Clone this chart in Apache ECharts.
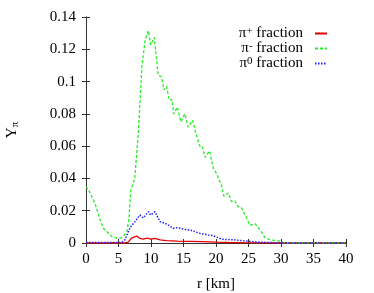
<!DOCTYPE html>
<html><head><meta charset="utf-8">
<script src="https://cdn.jsdelivr.net/npm/echarts@6/dist/echarts.min.js"></script>
<style>html,body{margin:0;padding:0;background:#fff}#c{width:374px;height:293px}</style>
</head><body><div id="c"></div>
<script>
// π+ fraction (red, solid)
const rPlus = [0, 6.0, 6.5, 7.0, 7.8, 8.3, 8.8, 9.4, 10.0, 10.6, 11.4, 12.4, 14, 16, 18, 20, 22, 25, 28, 40];
const yPlus = [0, 0, 0.0005, 0.003, 0.0043, 0.0028, 0.0024, 0.003, 0.0024, 0.0028, 0.0019, 0.0015, 0.0012, 0.001, 0.0008, 0.0005, 0.0003, 0.0001, 0, 0];
// π- fraction (green, dashed)
const rMinus = [0, 0.5, 1.1, 1.6, 2.2, 2.7, 3.2, 4.0, 4.7, 5.3, 5.8, 6.3, 6.6, 6.9, 7.5, 8.05, 8.6, 9.1, 9.6, 9.95, 10.5, 11.1, 11.6, 12.0, 12.4, 12.8, 13.2, 13.5, 14.05, 14.6, 15.2, 15.7, 16.4, 16.9, 17.5, 17.9, 18.3, 19.0, 19.6, 20.1, 20.9, 21.2, 21.9, 22.4, 22.9, 23.4, 23.9, 24.7, 25.2, 26.0, 26.8, 27.5, 28.3, 29.3, 30.0, 30.5, 35, 40];
const yMinus = [0.035, 0.032, 0.027, 0.022, 0.014, 0.009, 0.007, 0.004, 0.003, 0.003, 0.0045, 0.007, 0.015, 0.033, 0.040, 0.068, 0.109, 0.126, 0.1315, 0.1227, 0.1274, 0.104, 0.103, 0.0948, 0.097, 0.0886, 0.089, 0.080, 0.0842, 0.075, 0.080, 0.0718, 0.076, 0.068, 0.060, 0.060, 0.053, 0.057, 0.046, 0.043, 0.035, 0.029, 0.031, 0.0256, 0.026, 0.0225, 0.022, 0.0155, 0.011, 0.012, 0.008, 0.0035, 0.002, 0.0015, 0.001, 0, 0, 0];
// π0 fraction (blue, dotted)
const rZero = [0, 5.5, 6.0, 6.8, 7.5, 8.3, 8.8, 9.6, 9.95, 10.6, 11.4, 12.4, 13.4, 14.0, 15.2, 16.2, 17.5, 18.8, 19.6, 20.9, 22.7, 24.7, 26.8, 28.8, 30, 40];
const yZero = [0.0003, 0.0003, 0.002, 0.0097, 0.013, 0.0173, 0.0155, 0.0194, 0.0173, 0.0194, 0.0132, 0.0118, 0.0091, 0.0095, 0.0085, 0.0078, 0.006, 0.005, 0.0045, 0.0023, 0.002, 0.0012, 0.0005, 0.0002, 0, 0];
const xTicks = [0, 5, 10, 15, 20, 25, 30, 35, 40];
const yTicks = [0, 0.02, 0.04, 0.06, 0.08, 0.1, 0.12, 0.14];

const font = 'Liberation Serif';
const pairs = (xs, ys) => xs.map((x, i) => [x, ys[i]]);
const axisCommon = {
  axisLine: { show: true, lineStyle: { color: '#333', width: 1 } },
  axisTick: { show: true, inside: true, length: 4, lineStyle: { color: '#333' } },
  splitLine: { show: false },
  minorTick: { show: false }
};
const chart = echarts.init(document.getElementById('c'));
chart.setOption({
  animation: false,
  backgroundColor: '#fff',
  grid: { left: 86, right: 28, top: 17, bottom: 50, containLabel: false, outerBoundsMode: 'none' },
  legend: {
    right: 41, top: 21, orient: 'vertical', align: 'right',
    itemWidth: 12, itemHeight: 8, itemGap: 0,
    itemStyle: { opacity: 0 },
    formatter: function (name) {
      const sup = { 'pi+': '+', 'pi-': '-', 'pi0': '0' }[name];
      return '{a|π}{s|' + sup + '}{a| fraction}';
    },
    textStyle: {
      fontFamily: font, fontSize: 15, color: '#000', padding: [0, 7, 0, 0],
      rich: {
        a: { fontFamily: font, fontSize: 15, color: '#000', lineHeight: 15 },
        s: { fontFamily: font, fontSize: 11, color: '#000', verticalAlign: 'top', lineHeight: 6 }
      }
    },
    data: ['pi+', 'pi-', 'pi0']
  },
  xAxis: [
    Object.assign({}, axisCommon, {
      type: 'value', min: 0, max: 40, interval: 5, position: 'bottom',
      name: 'r [km]', nameLocation: 'middle', nameGap: 34,
      nameTextStyle: { fontFamily: font, fontSize: 15, color: '#000' },
      axisLabel: { fontFamily: font, fontSize: 15, color: '#000', margin: 9,
        formatter: v => xTicks.includes(v) ? String(v) : '' }
    }),
    Object.assign({}, axisCommon, {
      type: 'value', min: 0, max: 40, interval: 5, position: 'top',
      axisLabel: { show: false }
    })
  ],
  yAxis: [
    Object.assign({}, axisCommon, {
      type: 'value', min: 0, max: 0.14, interval: 0.02, position: 'left',
      name: '{y|Y}{p|π}', nameLocation: 'middle', nameRotate: 90, nameGap: 65,
      nameTextStyle: {
        fontFamily: font, fontSize: 15, color: '#000',
        rich: {
          y: { fontFamily: font, fontSize: 15, color: '#000' },
          p: { fontFamily: font, fontSize: 11, color: '#000', verticalAlign: 'bottom', padding: [6, 0, 0, 0] }
        }
      },
      axisLabel: { fontFamily: font, fontSize: 15, color: '#000', margin: 10,
        formatter: v => { const t = yTicks.find(k => Math.abs(k - v) < 1e-9); return t === undefined ? '' : String(+t.toFixed(2)); } }
    }),
    Object.assign({}, axisCommon, {
      type: 'value', min: 0, max: 0.14, interval: 0.02, position: 'right',
      axisLabel: { show: false }
    })
  ],
  series: [
    { name: 'pi+', type: 'line', data: pairs(rPlus, yPlus), symbol: 'none', color: '#e00000',
      lineStyle: { color: '#e00000', width: 1.3, type: 'solid' } },
    { name: 'pi-', type: 'line', data: pairs(rMinus, yMinus), symbol: 'none', color: '#22ee22',
      lineStyle: { color: '#22ee22', width: 1.3, type: [3, 2] } },
    { name: 'pi0', type: 'line', data: pairs(rZero, yZero), symbol: 'none', color: '#2222ff',
      lineStyle: { color: '#2222ff', width: 1.5, type: [1.5, 1.5] } }
  ]
});
</script></body></html>
